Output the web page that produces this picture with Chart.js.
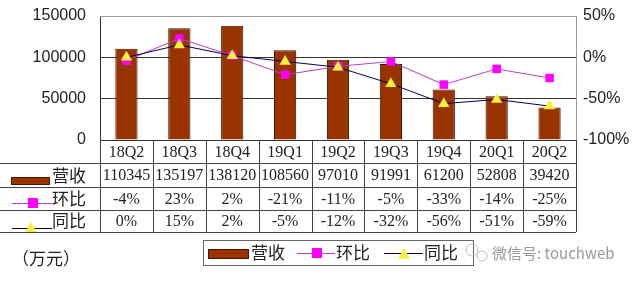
<!DOCTYPE html>
<html>
<head>
<meta charset="utf-8">
<script src="https://cdn.jsdelivr.net/npm/chart.js@4"></script>
<style>
  html, body { margin: 0; padding: 0; background: #fff; }
  canvas { display: block; }
</style>
</head>
<body>
<canvas id="c" width="640" height="281"></canvas>
<script>
// data
const quarters = ['18Q2', '18Q3', '18Q4', '19Q1', '19Q2', '19Q3', '19Q4', '20Q1', '20Q2'];
const revenue = [110345, 135197, 138120, 108560, 97010, 91991, 61200, 52808, 39420];
const qoq = [-4, 23, 2, -21, -11, -5, -33, -14, -25];
const yoy = [0, 15, 2, -5, -12, -32, -56, -51, -59];
const leftTicks = [0, 50000, 100000, 150000];
const rightTicks = [-100, -50, 0, 50];

const barCol = '#993300';
const qoqCol = '#ff00ff';
const yoyCol = '#f6f03a';
const serif = '"Liberation Serif", "Noto Sans CJK SC", serif';
const cjk = '"Noto Sans CJK SC", sans-serif';

function tri(ctx, x, y, r) {
  ctx.beginPath();
  ctx.moveTo(x, y - r);
  ctx.lineTo(x + r, y + r * 0.8);
  ctx.lineTo(x - r, y + r * 0.8);
  ctx.closePath();
  ctx.fillStyle = yoyCol;
  ctx.fill();
}

function sqr(ctx, x, y, s) {
  ctx.fillStyle = qoqCol;
  ctx.fillRect(x - s / 2, y - s / 2, s, s);
}

// table under the chart + legend + notes
const tablePlugin = {
  id: 'tabel',
  afterDraw(chart) {
    const ctx = chart.ctx;
    const x = chart.scales.x;
    const a = chart.chartArea;
    const half = (x.getPixelForValue(1) - x.getPixelForValue(0)) / 2;
    const rows = [a.bottom, 163, 187, 210, 232];

    ctx.save();
    // top frame line
    ctx.strokeStyle = '#999';
    ctx.lineWidth = 1;
    ctx.beginPath();
    ctx.moveTo(a.left, a.top + 0.5);
    ctx.lineTo(a.right, a.top + 0.5);
    ctx.stroke();

    ctx.strokeStyle = '#444';
    ctx.beginPath();
    for (let i = 1; i < rows.length; i++) {
      ctx.moveTo(0, rows[i] + 0.5);
      ctx.lineTo(a.right, rows[i] + 0.5);
    }
    ctx.moveTo(a.left + 0.5, a.bottom);
    ctx.lineTo(a.left + 0.5, rows[4]);
    for (let i = 0; i < quarters.length; i++) {
      const bx = Math.round(x.getPixelForValue(i) + half) + 0.5;
      ctx.moveTo(bx, a.bottom);
      ctx.lineTo(bx, rows[4]);
    }
    ctx.stroke();

    ctx.fillStyle = '#222';
    ctx.textBaseline = 'middle';
    ctx.font = '16px ' + serif;
    const cells = [quarters, revenue.map(String), qoq.map(v => v + '%'), yoy.map(v => v + '%')];
    for (let r = 0; r < cells.length; r++) {
      const cy = (rows[r] + rows[r + 1]) / 2 + 1;
      cells[r].forEach((t, i) => {
        const cx = x.getPixelForValue(i);
        const w = ctx.measureText(t).width;
        ctx.save();
        ctx.beginPath();
        ctx.rect(cx - half + 1, rows[r] + 1, half * 2 - 2, rows[r + 1] - rows[r] - 1);
        ctx.clip();
        ctx.textAlign = 'center';
        let tx = cx;
        if (w > half * 2 - 4) { ctx.textAlign = 'left'; tx = cx - half + 2; }
        ctx.fillText(t, tx, cy);
        ctx.restore();
      });
    }

    // row labels with small keys
    ctx.font = '17px ' + cjk;
    ctx.textAlign = 'left';
    ctx.fillStyle = barCol;
    ctx.fillRect(11, 177, 39, 8);
    ctx.strokeStyle = '#4a1500';
    ctx.strokeRect(11.5, 177.5, 38, 7);
    ctx.fillStyle = '#222';
    ctx.fillText('营收', 52, 176);

    ctx.strokeStyle = '#c040c0';
    ctx.beginPath();
    ctx.moveTo(12, 203.5); ctx.lineTo(52, 203.5);
    ctx.stroke();
    sqr(ctx, 33, 203, 10);
    ctx.fillStyle = '#222';
    ctx.fillText('环比', 52, 199);

    ctx.strokeStyle = '#000060';
    ctx.beginPath();
    ctx.moveTo(12, 228.5); ctx.lineTo(52, 228.5);
    ctx.stroke();
    ctx.save();
    ctx.beginPath(); ctx.rect(0, 210, 100, 22); ctx.clip();
    tri(ctx, 31, 228, 6);
    ctx.restore();
    ctx.fillStyle = '#222';
    ctx.fillText('同比', 52, 221);

    // legend box
    ctx.strokeStyle = '#666';
    ctx.strokeRect(203.5, 240.5, 270, 25);
    ctx.fillStyle = barCol;
    ctx.fillRect(208, 249, 41, 10);
    ctx.strokeStyle = '#4a1500';
    ctx.strokeRect(208.5, 249.5, 40, 9);
    ctx.fillStyle = '#222';
    ctx.fillText('营收', 251, 253);
    ctx.strokeStyle = '#c040c0';
    ctx.beginPath(); ctx.moveTo(297, 253.5); ctx.lineTo(335, 253.5); ctx.stroke();
    sqr(ctx, 317, 253, 10);
    ctx.fillStyle = '#222';
    ctx.fillText('环比', 336, 253);
    ctx.strokeStyle = '#000060';
    ctx.beginPath(); ctx.moveTo(384, 253.5); ctx.lineTo(423, 253.5); ctx.stroke();
    tri(ctx, 404, 254, 6);
    ctx.fillStyle = '#222';
    ctx.fillText('同比', 424, 253);

    // unit + watermark
    ctx.fillText('（万元）', 12, 259);
    ctx.fillStyle = '#9a9a9a';
    ctx.font = '15px ' + cjk;
    ctx.fillText('微信号: touchweb', 492, 253);
    ctx.strokeStyle = '#bbb';
    ctx.beginPath();
    ctx.arc(472, 250, 6, 0, Math.PI * 2);
    ctx.moveTo(487, 256);
    ctx.arc(482, 256, 5, 0, Math.PI * 2);
    ctx.stroke();
    ctx.restore();
  }
};

function fitY(w) {
  return s => { s.width = w; s.paddingTop = 0; s.paddingBottom = 0; };
}

new Chart(document.getElementById('c'), {
  type: 'bar',
  data: {
    labels: quarters,
    datasets: [
      {
        type: 'bar', label: '营收', data: revenue, yAxisID: 'y', order: 3,
        backgroundColor: barCol, borderColor: '#3a1000', borderWidth: 1,
        categoryPercentage: 1, barPercentage: 0.42
      },
      {
        type: 'line', label: '环比', data: qoq, yAxisID: 'y1', order: 2,
        borderColor: '#b040c8', borderWidth: 1, pointStyle: 'rect',
        pointRadius: 6, pointBackgroundColor: qoqCol, pointBorderWidth: 0,
        tension: 0
      },
      {
        type: 'line', label: '同比', data: yoy, yAxisID: 'y1', order: 1,
        borderColor: '#000060', borderWidth: 1, pointStyle: 'triangle',
        pointRadius: 6.5, pointBackgroundColor: yoyCol, pointBorderWidth: 0,
        tension: 0
      }
    ]
  },
  options: {
    responsive: false,
    animation: false,
    events: [],
    layout: { padding: { top: 16, bottom: 141, left: 0, right: 0 } },
    plugins: { legend: { display: false }, tooltip: { enabled: false } },
    scales: {
      x: {
        offset: true,
        grid: { display: false },
        ticks: { display: false },
        border: { color: '#333' },
        afterFit: s => { s.height = 0; s.paddingLeft = 0; s.paddingRight = 0; }
      },
      y: {
        position: 'left', min: 0, max: 150000,
        afterBuildTicks: s => { s.ticks = leftTicks.map(v => ({ value: v })); },
        ticks: {
          color: '#222', padding: 14, callback: v => String(v),
          font: { family: '"Liberation Sans", sans-serif', size: 16 }
        },
        grid: { color: c => (c.tick && c.tick.value === 150000 ? '#999' : '#333'), drawTicks: false },
        border: { color: '#333' },
        afterFit: fitY(100)
      },
      y1: {
        position: 'right', min: -100, max: 50,
        afterBuildTicks: s => { s.ticks = rightTicks.map(v => ({ value: v })); },
        ticks: {
          color: '#222', padding: 7, callback: v => v + '%',
          font: { family: '"Liberation Sans", sans-serif', size: 16 }
        },
        grid: { drawOnChartArea: false, drawTicks: false },
        border: { color: '#999' },
        afterFit: fitY(64)
      }
    }
  },
  plugins: [tablePlugin]
});
</script>
</body>
</html>
